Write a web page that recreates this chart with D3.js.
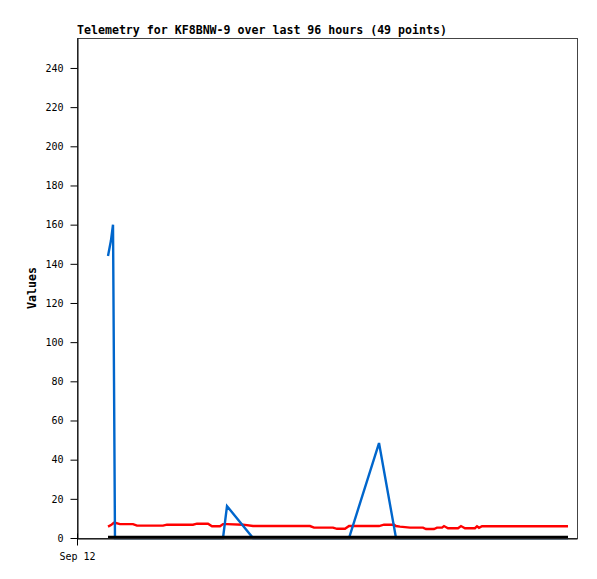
<!DOCTYPE html>
<html><head><meta charset="utf-8">
<script src="https://cdn.jsdelivr.net/npm/d3@7"></script>
<style>body{margin:0;background:#fff}svg{display:block}</style>
</head><body>
<svg id="c" width="597" height="579"></svg>
<script>
const title = "Telemetry for KF8BNW-9 over last 96 hours (49 points)";
const yLabel = "Values";
const xTickLabels = ["Sep 12"];
const xTickHours = [0];
const yTicks = [0,20,40,60,80,100,120,140,160,180,200,220,240];
// hours since Sep 12 00:00
const hours = [6.45,7.07,7.49,7.70,7.90,8.94,11.65,12.48,17.89,18.72,
  24.13,24.96,27.25,28.08,29.74,30.37,31.20,34.53,36.61,44.30,
  48.46,49.30,53.25,54.08,55.74,56.58,62.82,63.86,65.94,66.35,
  67.18,69.26,71.97,72.59,74.26,74.88,75.92,76.34,77.17,79.25,
  79.87,80.70,82.78,83.20,83.62,84.24,92.14,96.30,102.13];
const seriesRed = [5.8,6.6,7.4,7.8,7.8,7.1,7.1,6.3,6.3,6.8,
  6.8,7.3,7.3,6.0,6.0,7.1,7.1,6.8,6.1,6.1,
  6.1,5.3,5.3,4.7,4.7,6.1,6.1,6.8,6.8,6.1,
  5.8,5.3,5.3,4.6,4.6,5.3,5.3,6.1,5.0,5.0,
  6.1,5.0,5.0,6.0,5.2,6.0,6.0,6.0,6.0];
const seriesBlue = [144,152,160,80,0,0,0,0,0,0,
  0,0,0,0,0,0,16.3,6.3,0,0,
  0,0,0,0,0,0,48.5,34.2,5.7,0,
  0,0,0,0,0,0,0,0,0,0,
  0,0,0,0,0,0,0,0,0];
const seriesBlack = hours.map(() => 0);

const svg = d3.select("#c");
const L = 77, R = 577, T = 38, B = 538;
const x = d3.scaleLinear().domain([0,104]).range([L,R]);
const y = d3.scaleLinear().domain([0,255.3]).range([B,T]);
const font = "'DejaVu Sans Mono', monospace";

const line = vals => d3.line().x((d,i) => x(hours[i])).y(d => y(d))(vals);
svg.append("path").attr("d",line(seriesRed)).attr("fill","none").attr("stroke","#ff0000").attr("stroke-width",2.4);
svg.append("path").attr("d",line(seriesBlue)).attr("fill","none").attr("stroke","#0066cc").attr("stroke-width",2.4);
svg.append("path").attr("d",line(seriesBlack)).attr("transform","translate(0,-0.8)").attr("fill","none").attr("stroke","#000").attr("stroke-width",2.8);

svg.append("rect").attr("x",L+0.5).attr("y",T+0.5).attr("width",R-L).attr("height",B-T)
  .attr("fill","none").attr("stroke","#444").attr("stroke-width",1);

const yAxis = svg.append("g").attr("transform",`translate(${L+0.5},0)`)
  .call(d3.axisLeft(y).tickValues(yTicks).tickSize(7).tickSizeOuter(0).tickPadding(7).tickFormat(d3.format("d")));
yAxis.select(".domain").attr("stroke","#000");
yAxis.selectAll("line").attr("stroke","#000");
yAxis.selectAll("text").attr("font-family",font).attr("font-size","10px").attr("fill","#000");

const xAxis = svg.append("g").attr("transform",`translate(0,${B+0.5})`)
  .call(d3.axisBottom(x).tickValues(xTickHours).tickSize(7).tickSizeOuter(0).tickPadding(7)
    .tickFormat((d,i) => xTickLabels[i]));
xAxis.select(".domain").attr("stroke","#000");
xAxis.selectAll(".tick line").attr("y1",-5).attr("stroke","#000");
xAxis.selectAll("text").attr("font-family",font).attr("font-size","10px").attr("fill","#000");

svg.append("text").attr("x",L).attr("y",34).text(title)
  .attr("font-family",font).attr("font-size","11.6px").attr("font-weight","bold");
svg.append("text").attr("transform","translate(36,288) rotate(-90)").attr("text-anchor","middle")
  .text(yLabel).attr("font-family",font).attr("font-size","11.6px").attr("font-weight","bold");
</script>
</body></html>
